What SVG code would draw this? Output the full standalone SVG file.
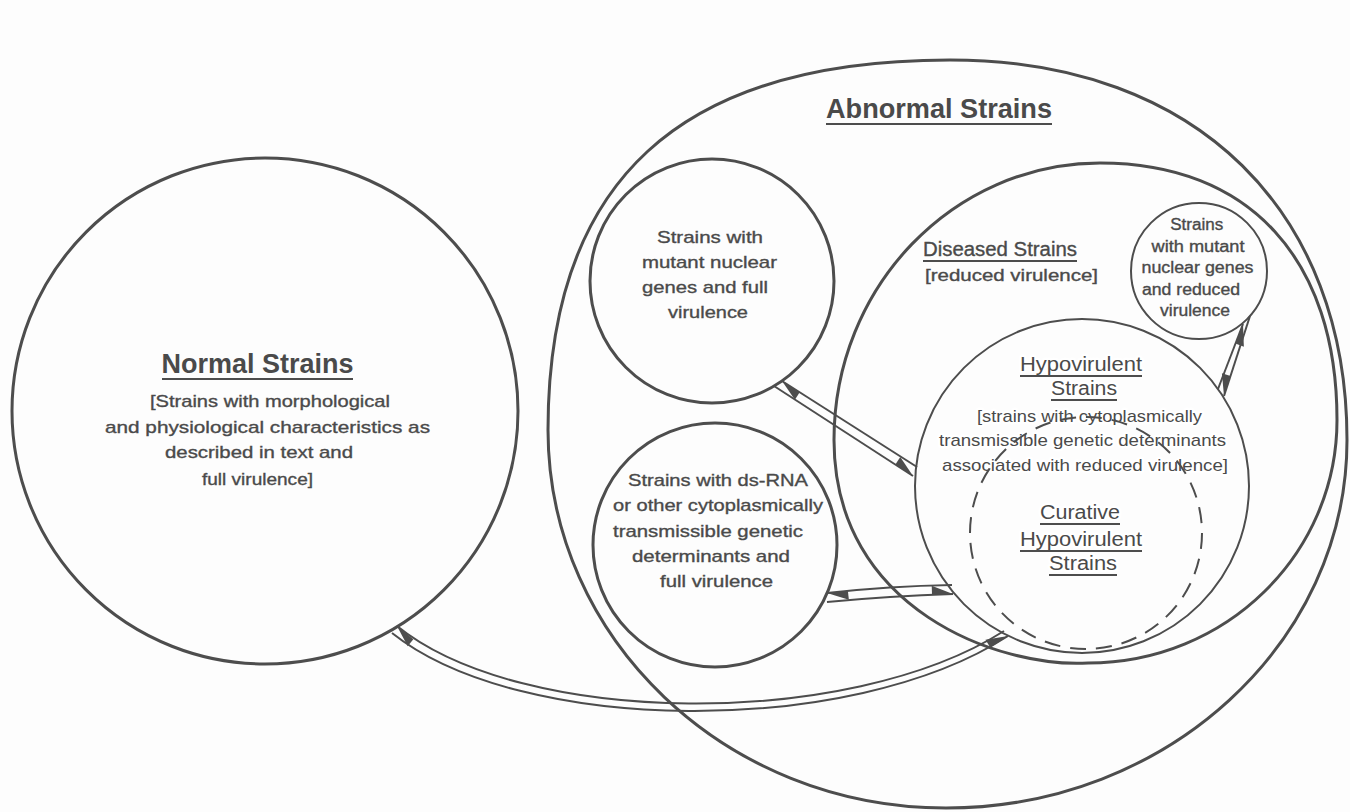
<svg xmlns="http://www.w3.org/2000/svg" width="1350" height="812" viewBox="0 0 1350 812">
<defs>
<style>
.c{fill:none;stroke:#4d4d4d;stroke-width:3}
.thin{stroke-width:2}
.dash{fill:none;stroke:#4d4d4d;stroke-width:2;stroke-dasharray:16 10}
.t{font-family:"Liberation Sans",Arial,sans-serif;font-size:17px;fill:#4a4a4a;stroke:#4a4a4a;stroke-width:0.35;text-anchor:middle}
.s{font-size:16px}
.tt{font-size:20px}
.h{font-family:"Liberation Sans Narrow","Liberation Sans",Arial,sans-serif;font-weight:bold;font-size:28px;fill:#4a4a4a;text-anchor:middle}
.ul{stroke:#4d4d4d;stroke-width:2}
.halo{stroke:#ffffff;stroke-width:5;paint-order:stroke;stroke-linejoin:round}
.ln{fill:none;stroke:#4d4d4d;stroke-width:2}
.la{marker-end:url(#hl)}
.ra{marker-end:url(#hr)}
</style>
<marker id="hl" markerUnits="userSpaceOnUse" markerWidth="26" markerHeight="26" refX="0" refY="0" viewBox="-24 -13 26 26" orient="auto"><path d="M0,0 L-21,-9 L-21,0 Z" fill="#4d4d4d"/></marker>
<marker id="hr" markerUnits="userSpaceOnUse" markerWidth="26" markerHeight="26" refX="0" refY="0" viewBox="-24 -13 26 26" orient="auto"><path d="M0,0 L-21,9 L-21,0 Z" fill="#4d4d4d"/></marker>
</defs>
<rect width="1350" height="812" fill="#fdfdfd"/>

<g id="normal">
<circle class="c" cx="265" cy="411" r="253"/>
<text class="h" x="257.5" y="373" textLength="192" lengthAdjust="spacingAndGlyphs">Normal Strains</text>
<line class="ul" x1="162" y1="379" x2="353" y2="379"/>
<text class="t" x="270" y="407" textLength="240" lengthAdjust="spacingAndGlyphs">[Strains with morphological</text>
<text class="t" x="267.5" y="433" textLength="325" lengthAdjust="spacingAndGlyphs">and physiological characteristics as</text>
<text class="t" x="259" y="458" textLength="188" lengthAdjust="spacingAndGlyphs">described in text and</text>
<text class="t" x="257.5" y="485" textLength="111" lengthAdjust="spacingAndGlyphs">full virulence]</text>
</g>

<g id="abnormal">
<path class="c" d="M950,60 C680,60 548,180 548,430 C548,639 726,808 946,808 C1167,808 1347,643 1347,440 C1347,215 1200,60 950,60 Z"/>
<text class="h" x="939" y="118" textLength="226" lengthAdjust="spacingAndGlyphs">Abnormal Strains</text>
<line class="ul" x1="826" y1="124" x2="1052" y2="124"/>
</g>

<g id="mutant-full">
<circle class="c" cx="712" cy="281" r="122"/>
<text class="t" x="710" y="243" textLength="106" lengthAdjust="spacingAndGlyphs">Strains with</text>
<text class="t" x="709.5" y="268" textLength="135" lengthAdjust="spacingAndGlyphs">mutant nuclear</text>
<text class="t" x="705" y="293" textLength="126" lengthAdjust="spacingAndGlyphs">genes and full</text>
<text class="t" x="708" y="318" textLength="80" lengthAdjust="spacingAndGlyphs">virulence</text>
</g>

<g id="dsrna">
<circle class="c" cx="715" cy="545" r="122"/>
<text class="t" x="718" y="486" textLength="180" lengthAdjust="spacingAndGlyphs">Strains with ds-RNA</text>
<text class="t" x="718" y="511" textLength="210" lengthAdjust="spacingAndGlyphs">or other cytoplasmically</text>
<text class="t" x="708" y="537" textLength="190" lengthAdjust="spacingAndGlyphs">transmissible genetic</text>
<text class="t" x="711" y="562" textLength="158" lengthAdjust="spacingAndGlyphs">determinants and</text>
<text class="t" x="716.5" y="587" textLength="113" lengthAdjust="spacingAndGlyphs">full virulence</text>
</g>

<g id="diseased">
<path class="c" d="M1100,163 C1250,163 1337,260 1337,420 C1337,554 1226,663 1088,663 C1000,668 834,610 834,440 C834,287 953,163 1100,163 Z"/>
<text class="t tt" x="1000" y="256" textLength="154" lengthAdjust="spacingAndGlyphs">Diseased Strains</text>
<line class="ul" x1="923" y1="261" x2="1077" y2="261"/>
<text class="t" x="1011.5" y="281" textLength="173" lengthAdjust="spacingAndGlyphs">[reduced virulence]</text>
</g>

<g id="mutant-reduced">
<circle class="c thin" cx="1199" cy="271" r="68"/>
<text class="t s" x="1196.7" y="230" textLength="53" lengthAdjust="spacingAndGlyphs">Strains</text>
<text class="t s" x="1198" y="251.5" textLength="93" lengthAdjust="spacingAndGlyphs">with mutant</text>
<text class="t s" x="1197.5" y="273" textLength="112" lengthAdjust="spacingAndGlyphs">nuclear genes</text>
<text class="t s" x="1191" y="294.5" textLength="98" lengthAdjust="spacingAndGlyphs">and reduced</text>
<text class="t s" x="1195" y="316" textLength="70" lengthAdjust="spacingAndGlyphs">virulence</text>
</g>

<g id="hypovirulent">
<circle class="c thin" cx="1082" cy="486" r="167"/>
<text class="t tt halo" x="1081" y="371" textLength="122" lengthAdjust="spacingAndGlyphs">Hypovirulent</text>
<line class="ul" x1="1020" y1="376" x2="1142" y2="376"/>
<text class="t tt halo" x="1084" y="395" textLength="66" lengthAdjust="spacingAndGlyphs">Strains</text>
<line class="ul" x1="1051" y1="400" x2="1117" y2="400"/>
<text class="t halo" x="1089.5" y="422" textLength="225" lengthAdjust="spacingAndGlyphs">[strains with cytoplasmically</text>
<text class="t halo" x="1082.5" y="446" textLength="287" lengthAdjust="spacingAndGlyphs">transmissible genetic determinants</text>
<text class="t halo" x="1085" y="471" textLength="286" lengthAdjust="spacingAndGlyphs">associated with reduced virulence]</text>
</g>

<g id="curative">
<circle class="dash" cx="1086" cy="533" r="116"/>
<text class="t tt halo" x="1080" y="519" textLength="80" lengthAdjust="spacingAndGlyphs">Curative</text>
<line class="ul" x1="1040" y1="524" x2="1120" y2="524"/>
<text class="t tt halo" x="1081" y="546" textLength="122" lengthAdjust="spacingAndGlyphs">Hypovirulent</text>
<line class="ul" x1="1020" y1="551" x2="1142" y2="551"/>
<text class="t tt halo" x="1083" y="570" textLength="68" lengthAdjust="spacingAndGlyphs">Strains</text>
<line class="ul" x1="1049" y1="575" x2="1117" y2="575"/>
</g>

<g id="connectors">
<path class="ln la" d="M774,386 L913,476"/>
<path class="ln la" d="M917,467 L782,381"/>
<path class="ln la" d="M952,585 Q890,586 827,593"/>
<path class="ln la" d="M827,602 Q890,596 953,594"/>
<path class="ln la" d="M392,633 C520,735 850,738 1008,636"/>
<path class="ln la" d="M1004,631 C848,730 522,727 397,626"/>
<path class="ln ra" d="M1218,389 L1243,324"/>
<path class="ln ra" d="M1250,316 L1224,396"/>
</g>
</svg>
